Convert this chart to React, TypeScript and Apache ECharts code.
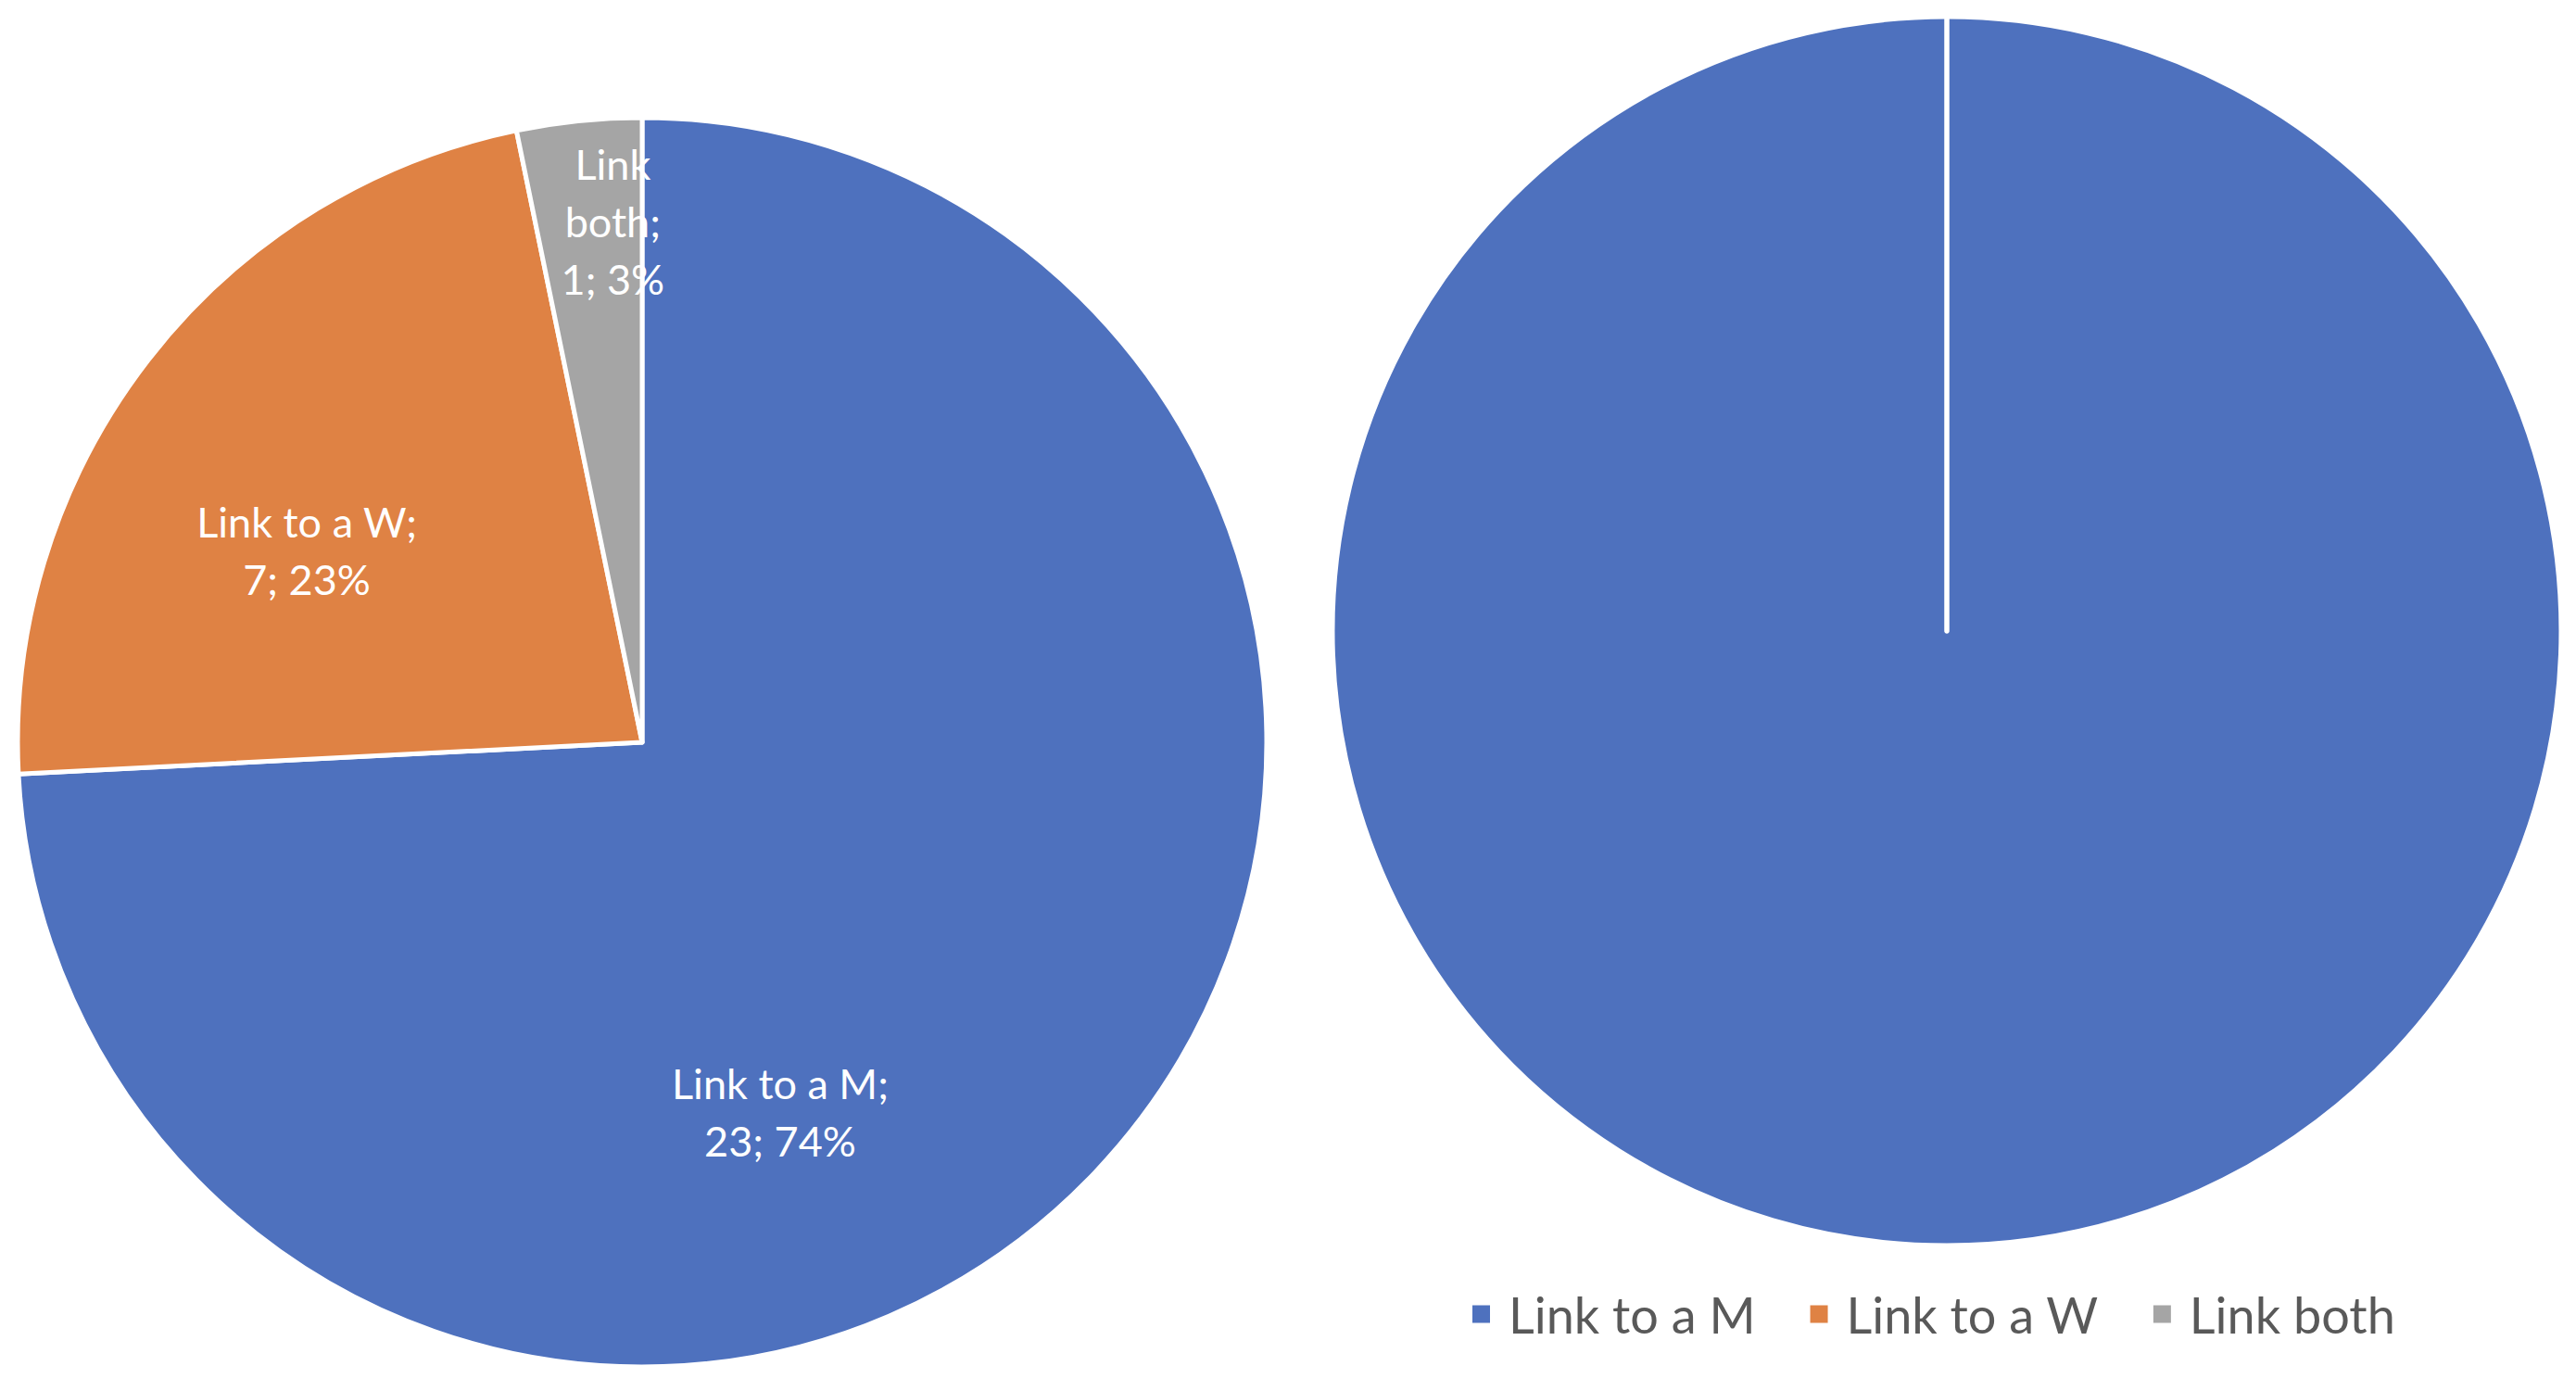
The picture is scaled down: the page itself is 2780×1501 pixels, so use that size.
import React, { useEffect, useRef } from "react";
import * as echarts from "echarts";

const categories = ["Link to a M", "Link to a W", "Link both"];
const leftValues = [23, 7, 1];
const rightValues = [10, 0, 0];
const colors = ["#4E71BE", "#DF8244", "#A5A5A5"];
// label anchor offsets relative to pie centre, in units of radius
const labelOffsets = [
  [0.221, 0.592],
  [-0.537, -0.307],
  [-0.047, -0.834],
];

const W = 2780;
const H = 1501;
const leftCenter = [693, 801];
const leftRadius = 674;
const rightCenter = [2101, 681];
const rightRadius = 663;

export default function App() {
  const ref = useRef<HTMLDivElement>(null);
  useEffect(() => {
    if (!ref.current) return;
    const chart = echarts.init(ref.current, undefined, { renderer: "svg" });
    const total = leftValues.reduce((a, b) => a + b, 0);
    chart.setOption({
      animation: false,
      backgroundColor: "#ffffff",
      color: colors,
      legend: {
        data: categories,
        left: 1587,
        top: 1388,
        padding: 0,
        itemWidth: 21,
        itemHeight: 21,
        itemGap: 57,
        icon: "rect",
        textStyle: {
          fontFamily: "Lato",
          fontSize: 54,
          color: "#595959",
          lineHeight: 60,
          padding: [0, 0, 0, 14],
        },
      },
      series: [
        {
          type: "pie",
          center: leftCenter,
          radius: leftRadius,
          startAngle: 90,
          clockwise: true,
          itemStyle: { borderColor: "#ffffff", borderWidth: 5 },
          label: {
            show: true,
            position: "inside",
            color: "#ffffff",
            fontFamily: "Lato",
            fontSize: 45,
            lineHeight: 62,
            align: "center",
            formatter: (p: any) => {
              const pct = Math.round((p.value / total) * 100);
              const name = p.name === "Link both" ? "Link\nboth" : p.name;
              return `${name};\n${p.value}; ${pct}%`;
            },
          },
          labelLine: { show: false },
          labelLayout: (p: any) => {
            const o = labelOffsets[p.dataIndex];
            return {
              x: leftCenter[0] + o[0] * leftRadius,
              y: leftCenter[1] + o[1] * leftRadius,
              align: "center",
              verticalAlign: "middle",
            };
          },
          emphasis: { disabled: true },
          data: categories.map((c, i) => ({ name: c, value: leftValues[i] })),
        },
        {
          type: "pie",
          center: rightCenter,
          radius: rightRadius,
          startAngle: 90,
          clockwise: true,
          itemStyle: { borderColor: "#ffffff", borderWidth: 5 },
          label: { show: false },
          labelLine: { show: false },
          emphasis: { disabled: true },
          data: categories.map((c, i) => ({ name: c, value: rightValues[i] })),
        },
      ],
    });
    return () => chart.dispose();
  }, []);
  return (
    <div
      ref={ref}
      style={{ position: "fixed", left: 0, top: 0, width: W, height: H }}
    />
  );
}
